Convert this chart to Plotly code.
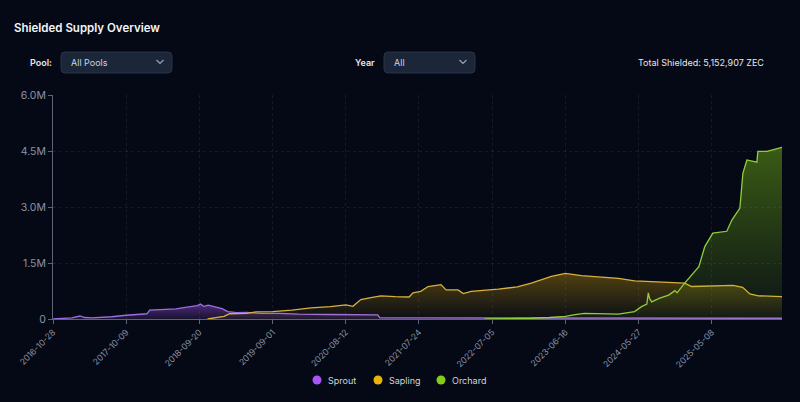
import plotly.graph_objects as go

# ---------------- data (values in millions of ZEC) ----------------
sprout_dates = ["2016-10-28", "2016-11-30", "2016-12-20", "2017-01-25", "2017-03-05", "2017-03-25",
                "2017-05-01", "2017-06-08", "2017-08-01", "2017-10-09", "2017-12-01", "2018-01-15",
                "2018-01-28", "2018-04-01", "2018-06-01", "2018-07-15", "2018-08-15", "2018-09-10",
                "2018-09-25", "2018-10-10", "2018-11-01", "2018-12-01", "2019-01-05", "2019-02-01",
                "2019-03-15", "2019-05-01", "2019-07-01", "2019-10-01", "2020-01-01", "2020-06-01",
                "2020-10-01", "2021-01-10", "2021-01-20", "2021-06-01", "2023-01-01", "2026-04-05"]
sprout_vals = [0.0, 0.01, 0.02, 0.03, 0.08, 0.04,
               0.03, 0.04, 0.06, 0.10, 0.12, 0.14,
               0.24, 0.26, 0.27, 0.31, 0.33, 0.36,
               0.40, 0.34, 0.37, 0.33, 0.28, 0.20,
               0.17, 0.18, 0.15, 0.15, 0.13, 0.12,
               0.11, 0.11, 0.03, 0.03, 0.02, 0.02]

sapling_dates = ["2018-10-28", "2018-12-10", "2019-01-15", "2019-02-10", "2019-05-01", "2019-06-15",
                 "2019-09-01", "2019-12-01", "2020-03-01", "2020-06-01", "2020-08-12", "2020-09-15",
                 "2020-10-22", "2020-12-15", "2021-01-25", "2021-04-01", "2021-06-07", "2021-06-26",
                 "2021-08-01", "2021-09-05", "2021-11-05", "2021-11-29", "2022-01-25", "2022-02-18",
                 "2022-03-28", "2022-08-03", "2022-11-01", "2023-01-06", "2023-04-11", "2023-06-16",
                 "2023-08-31", "2023-12-04", "2024-02-22", "2024-05-08", "2024-07-28", "2024-10-16",
                 "2024-12-31", "2025-02-02", "2025-05-08", "2025-08-16", "2025-10-01", "2025-11-04",
                 "2025-12-15", "2026-04-05"]
sapling_vals = [0.0, 0.03, 0.07, 0.14, 0.15, 0.19,
                0.20, 0.24, 0.30, 0.33, 0.38, 0.34,
                0.52, 0.58, 0.62, 0.60, 0.59, 0.70,
                0.74, 0.87, 0.92, 0.78, 0.78, 0.68,
                0.74, 0.80, 0.86, 0.96, 1.14, 1.22,
                1.16, 1.12, 1.09, 1.02, 1.00, 0.97,
                0.96, 0.87, 0.88, 0.90, 0.85, 0.67,
                0.62, 0.60]

orchard_dates = ["2022-05-31", "2022-09-01", "2023-01-01", "2023-04-01", "2023-06-16", "2023-08-01",
                 "2023-09-14", "2024-02-22", "2024-04-01", "2024-05-08", "2024-06-10", "2024-07-05",
                 "2024-07-12", "2024-07-18", "2024-07-28", "2024-09-01", "2024-10-16", "2024-11-15",
                 "2024-11-25", "2024-12-31", "2025-03-08", "2025-04-05", "2025-05-13", "2025-07-18",
                 "2025-08-11", "2025-09-18", "2025-10-02", "2025-10-21", "2025-12-07", "2025-12-12",
                 "2026-01-24", "2026-04-05"]
orchard_vals = [0.0, 0.005, 0.02, 0.04, 0.07, 0.12,
                0.15, 0.13, 0.17, 0.20, 0.33, 0.40,
                0.70, 0.55, 0.46, 0.55, 0.64, 0.76,
                0.70, 0.96, 1.40, 1.94, 2.30, 2.35,
                2.65, 2.97, 3.90, 4.26, 4.20, 4.49,
                4.49, 4.60]

x_tick_labels = ["2016-10-28", "2017-10-09", "2018-09-20", "2019-09-01", "2020-08-12",
                 "2021-07-24", "2022-07-05", "2023-06-16", "2024-05-27", "2025-05-08"]
y_tick_vals = [0, 1.5e6, 3.0e6, 4.5e6, 6.0e6]
y_tick_text = ["0", "1.5M", "3.0M", "4.5M", "6.0M"]

pool_names = ["Sprout", "Sapling", "Orchard"]
series = [
    (sprout_dates, sprout_vals, "#a855f7", "#9b6ee0", "rgba(168,85,247,0.45)", "rgba(168,85,247,0.12)"),
    (sapling_dates, sapling_vals, "#eab308", "#d9b13a", "rgba(234,179,8,0.33)", "rgba(234,179,8,0.03)"),
    (orchard_dates, orchard_vals, "#84cc16", "#8fcf3a", "rgba(132,204,22,0.42)", "rgba(132,204,22,0.05)"),
]

BG = "#050915"
fig = go.Figure()
for name, (d, v, col, lcol, top, bot) in zip(pool_names, series):
    fig.add_trace(go.Scatter(
        x=d, y=[val * 1e6 for val in v], name=name, mode="lines",
        line=dict(color=lcol, width=1.3), fill="tozeroy",
        fillgradient=dict(type="vertical", colorscale=[[0, bot], [1, top]]),
        showlegend=False, hoverinfo="skip"))

# ------------- layout helpers (pixel -> paper) -------------
L, R, T, B = 53, 782, 95, 319
W, H = R - L, B - T
def px(x):
    return (x - L) / W
def py(y):
    return (B - y) / H

def rounded_rect(x0, y0, x1, y1, r):
    return ("M {a},{b} L {c},{b} Q {d},{b} {d},{e} L {d},{f} Q {d},{g} {c},{g} "
            "L {a},{g} Q {h},{g} {h},{f} L {h},{e} Q {h},{b} {a},{b} Z").format(
        a=px(x0 + r), b=py(y0), c=px(x1 - r), d=px(x1), e=py(y0 + r),
        f=py(y1 - r), g=py(y1), h=px(x0))

def chevron(cx, cy):
    return "M {},{} L {},{} L {},{}".format(px(cx - 3.5), py(cy - 2), px(cx), py(cy + 1.5), px(cx + 3.5), py(cy - 2))

shapes = []
for (x0, x1) in [(61, 172), (384, 475)]:
    shapes.append(dict(type="path", xref="paper", yref="paper", path=rounded_rect(x0, 52, x1, 73, 4),
                       fillcolor="#1c2639", line=dict(color="#283349", width=1), layer="above"))
    shapes.append(dict(type="path", xref="paper", yref="paper", path=chevron(x1 - 12, 62),
                       line=dict(color="#94a3b8", width=1.2), layer="above"))

annotations = [
    dict(text="Shielded Supply Overview", x=px(12), y=py(28), xref="paper", yref="paper",
         xanchor="left", yanchor="middle", showarrow=False,
         font=dict(family="Inter", size=11.5, color="#f1f5f9", weight=600)),
    dict(text="Pool:", x=px(54), y=py(62.5), xref="paper", yref="paper", xanchor="right", yanchor="middle",
         showarrow=False, font=dict(family="Inter", size=9, color="#e5e7eb", weight=600)),
    dict(text="All Pools", x=px(69), y=py(62.5), xref="paper", yref="paper", xanchor="left", yanchor="middle",
         showarrow=False, font=dict(family="Inter", size=9, color="#cbd5e1")),
    dict(text="Year", x=px(377), y=py(62.5), xref="paper", yref="paper", xanchor="right", yanchor="middle",
         showarrow=False, font=dict(family="Inter", size=9, color="#e5e7eb", weight=600)),
    dict(text="All", x=px(392), y=py(62.5), xref="paper", yref="paper", xanchor="left", yanchor="middle",
         showarrow=False, font=dict(family="Inter", size=9, color="#cbd5e1")),
    dict(text="Total Shielded: 5,152,907 ZEC", x=px(766), y=py(62.5), xref="paper", yref="paper",
         xanchor="right", yanchor="middle", showarrow=False,
         font=dict(family="Inter", size=9, color="#e5e7eb")),
]

# legend (circle + label) drawn manually to match the compact spacing
legend_x = [317, 378, 441]
for name, (d, v, col, lcol, top, bot), lx in zip(pool_names, series, legend_x):
    shapes.append(dict(type="circle", xref="paper", yref="paper",
                       x0=px(lx - 4.5), x1=px(lx + 4.5), y0=py(380 + 4.5), y1=py(380 - 4.5),
                       fillcolor=col, line=dict(width=0)))
    annotations.append(dict(text=name, x=px(lx + 9), y=py(380.5), xref="paper", yref="paper",
                            xanchor="left", yanchor="middle", showarrow=False,
                            font=dict(family="Inter", size=9, color="#d1d5db")))

fig.update_layout(
    width=800, height=402,
    margin=dict(l=L, r=800 - R, t=T, b=402 - B, autoexpand=False),
    paper_bgcolor=BG, plot_bgcolor=BG,
    font=dict(family="Inter", color="#8b93a7", size=10),
    shapes=shapes, annotations=annotations,
    showlegend=False,
    hovermode=False,
)
fig.update_xaxes(
    type="date", range=["2016-10-28", "2026-04-05"],
    tickvals=x_tick_labels, ticktext=x_tick_labels, tickangle=-45,
    tickfont=dict(size=8.5, color="#8b93a7"), automargin=False,
    showgrid=True, gridcolor="rgba(148,163,184,0.11)", griddash="3px,3px", gridwidth=1,
    showline=True, linecolor="#5b6478", linewidth=1,
    ticks="outside", ticklen=4, tickcolor="#5b6478", zeroline=False,
)
fig.update_yaxes(
    range=[0, 6.0e6], tickvals=y_tick_vals, ticktext=y_tick_text,
    tickfont=dict(size=10.5, color="#8b93a7"), automargin=False,
    showgrid=True, gridcolor="rgba(148,163,184,0.11)", griddash="3px,3px", gridwidth=1,
    showline=True, linecolor="#5b6478", linewidth=1,
    ticks="outside", ticklen=4, tickcolor="#5b6478", zeroline=False,
)

fig.write_html("out.html", config={"displayModeBar": False},
               post_script="document.body.style.margin='0';document.body.style.background='#050915';")
